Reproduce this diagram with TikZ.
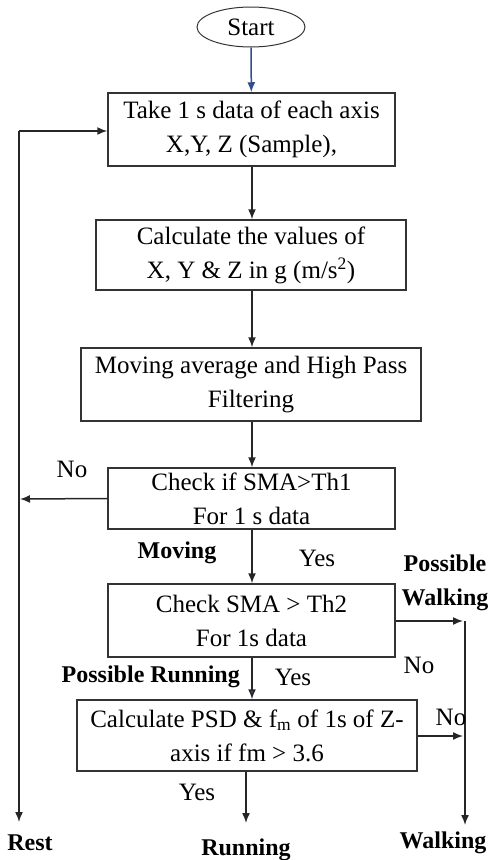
\documentclass[tikz,border=0pt]{standalone}
\usepackage{fontspec}
\setmainfont{Liberation Serif}
\usetikzlibrary{arrows.meta,shapes.geometric}
\begin{document}
\begin{tikzpicture}[x=1pt,y=-1pt,
 box/.style={draw=black!80, line width=1.5pt, align=center, inner sep=0pt, font=\fontsize{25}{34}\selectfont},
 arr/.style={draw=black!85, line width=1.5pt, -{Latex[length=10pt,width=8pt]}},
 ln/.style={draw=black!85, line width=1.5pt},
 lab/.style={font=\fontsize{25}{28}\selectfont, inner sep=0pt},
 blab/.style={font=\bfseries\fontsize{24}{34}\selectfont, inner sep=0pt, align=center}]
\useasboundingbox (0,0) rectangle (490,860);
\definecolor{darkblue}{rgb}{0.2,0.3,0.55}

\node[draw=black!80, ellipse, line width=1pt, minimum width=108pt, minimum height=40pt, inner sep=0pt, font=\fontsize{25}{28}\selectfont] (start) at (251,27) {Start};

\node[box, minimum width=287pt, minimum height=73pt] (b1) at (251.5,129.5) {Take 1 s data of each axis\\X,Y, Z (Sample),};
\node[box, minimum width=310pt, minimum height=70pt] (b2) at (251,255) {Calculate the values of\\X, Y \& Z in g (m/s\textsuperscript{2})};
\node[box, minimum width=340pt, minimum height=73pt] (b3) at (251,384.5) {Moving average and High Pass\\Filtering};
\node[box, minimum width=287pt, minimum height=61pt] (b4) at (251.5,498.5) {Check if SMA>Th1\\For 1 s data};
\node[box, minimum width=287pt, minimum height=73pt] (b5) at (251.5,620.5) {Check SMA > Th2\\For 1s data};
\node[box, minimum width=340pt, minimum height=71pt] (b6) at (247,735.5) {Calculate PSD \& f\textsubscript{m} of 1s of Z-\\axis if fm > 3.6};

\coordinate (ltop) at (19,131);
\coordinate (lbot) at (19,822);
\coordinate (lno) at (20,499);
\coordinate (r5) at (463,621);
\coordinate (r6) at (463,736);
\coordinate (rtop) at (465,621);
\coordinate (rbot) at (465,825);
\coordinate (rundown) at (246,823);

\draw[arr, draw=darkblue] (start) -- (b1);
\draw[arr] (b1.south -| 252,0) -- (b2.north -| 252,0);
\draw[arr] (b2.south -| 252,0) -- (b3.north -| 252,0);
\draw[arr] (b3.south -| 252,0) -- (b4.north -| 252,0);
\draw[arr] (b4.south -| 252,0) -- (b5.north -| 252,0);
\draw[ln, -{Latex[length=10pt,width=8pt,fill=darkblue]}] (b5.south -| 252,0) -- (b6.north -| 252,0);
\draw[arr] (b6.south -| 246,0) -- (rundown);

\draw[arr] (b4.west) -- (lno);
\draw[arr] (ltop) -- (lbot);
\draw[arr] (ltop) -- (b1.west |- ltop);

\draw[arr] (b5.east |- r5) -- (r5);
\draw[arr] (b6.east |- r6) -- (r6);
\draw[arr] (rtop) -- (rbot);

\node[lab] (no1) at (72,469) {No};
\node[blab] (moving) at (177,553) {Moving};
\node[lab] (yes1) at (317,558) {Yes};
\node[blab] (pw) at (445,583) {Possible\\Walking};
\node[lab] (no2) at (419,665) {No};
\node[blab, anchor=east] (pr) at (240,677) {Possible Running};
\node[lab] (yes2) at (293,677) {Yes};
\node[lab] (no3) at (451,717) {No};
\node[lab] (yes3) at (197,792) {Yes};
\node[blab] (rest) at (30,843) {Rest};
\node[blab] (running) at (246,850) {Running};
\node[blab] (walking) at (443,843) {Walking};
\end{tikzpicture}
\end{document}
